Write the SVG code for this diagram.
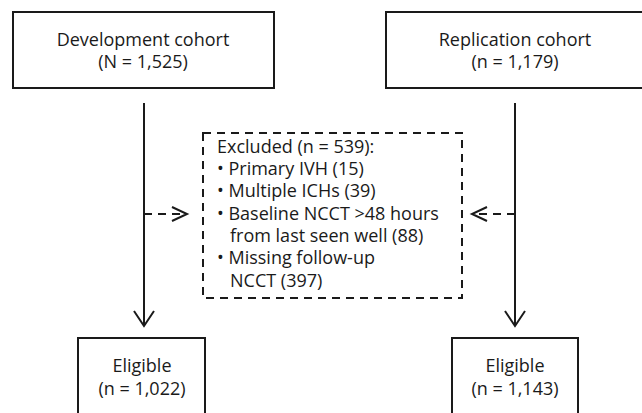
<svg xmlns="http://www.w3.org/2000/svg" width="642" height="413" viewBox="0 0 642 413">
<style>
text{font-family:"Open Sans","Noto Sans",sans-serif;font-size:18px;fill:#1a1a1a}
.c{text-anchor:middle}
.box{fill:#fff;stroke:#1a1a1a;stroke-width:2}
.dbox{fill:none;stroke:#1a1a1a;stroke-width:2;stroke-dasharray:8 6}
.ln{fill:none;stroke:#1a1a1a;stroke-width:2}
.dl{fill:none;stroke:#1a1a1a;stroke-width:2;stroke-dasharray:8 6}
.ah{fill:none;stroke:#1a1a1a;stroke-width:2}
</style>
<rect width="642" height="413" fill="#fff"/>
<g id="connectors">
<line class="ln" x1="144" y1="103" x2="144" y2="326"/>
<polyline class="ah" points="134,311 144,326 154,311"/>
<line class="ln" x1="515" y1="103" x2="515" y2="326"/>
<polyline class="ah" points="505,311 515,326 525,311"/>
<line class="dl" x1="144" y1="214" x2="184" y2="214"/>
<polyline class="ah" points="172,207 187,214 172,221"/>
<line class="dl" x1="515" y1="214" x2="475" y2="214"/>
<polyline class="ah" points="487,207 472,214 487,221"/>
</g>
<g id="dev">
<rect class="box" x="13" y="12" width="261" height="76"/>
<text class="c" x="143" y="46">Development cohort</text>
<text class="c" x="143" y="68">(N = 1,525)</text>
</g>
<g id="rep">
<rect class="box" x="386" y="12" width="262" height="76"/>
<text class="c" x="515" y="46">Replication cohort</text>
<text class="c" x="515" y="68">(n = 1,179)</text>
</g>
<g id="excluded">
<rect class="dbox" x="203" y="133" width="259" height="165"/>
<text x="217" y="153">Excluded (n = 539):</text>
<text x="217" y="175">• Primary IVH (15)</text>
<text x="217" y="197">• Multiple ICHs (39)</text>
<text x="217" y="220">• Baseline NCCT &gt;48 hours</text>
<text x="230" y="242">from last seen well (88)</text>
<text x="217" y="264">• Missing follow-up</text>
<text x="230" y="287">NCCT (397)</text>
</g>
<g id="elig1">
<rect class="box" x="78" y="338" width="127" height="90"/>
<text class="c" x="142" y="372">Eligible</text>
<text class="c" x="142" y="395">(n = 1,022)</text>
</g>
<g id="elig2">
<rect class="box" x="452" y="338" width="126" height="90"/>
<text class="c" x="515" y="372">Eligible</text>
<text class="c" x="515" y="395">(n = 1,143)</text>
</g>
</svg>
